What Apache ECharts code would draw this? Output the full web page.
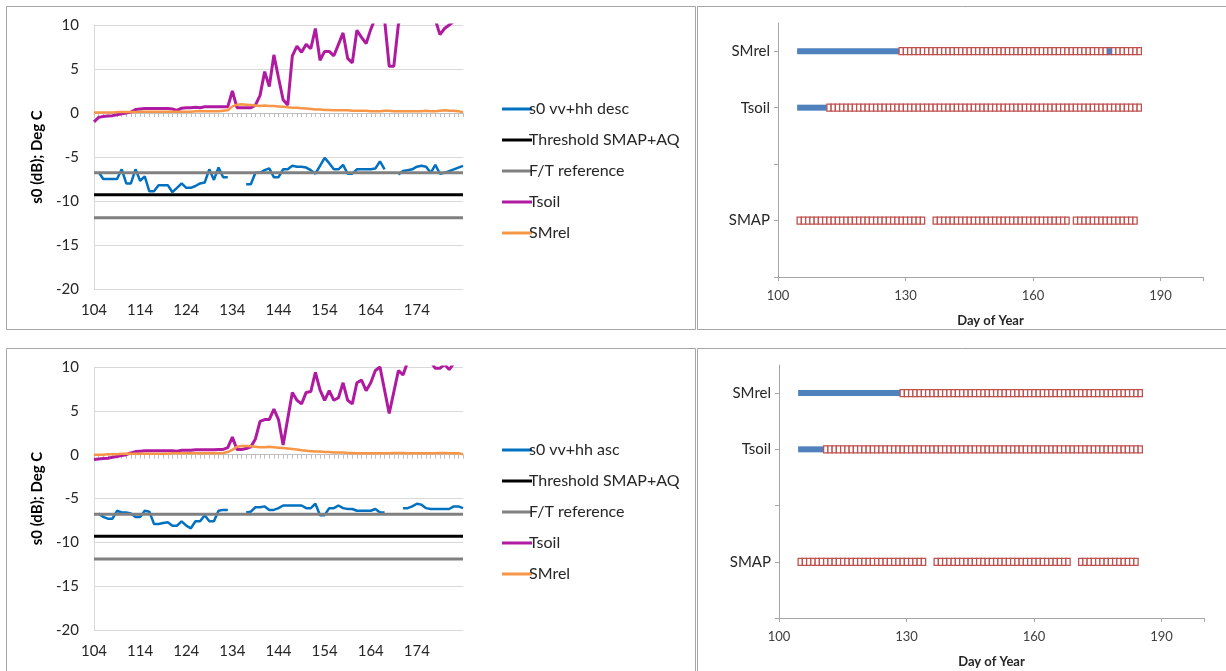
<!DOCTYPE html>
<html>
<head>
<meta charset="utf-8">
<script src="https://cdn.jsdelivr.net/npm/echarts@6/dist/echarts.min.js"></script>
<style>
  html, body { margin: 0; padding: 0; background: #fff; }
  #main { width: 1226px; height: 671px; }
</style>
</head>
<body>
<div id="main"></div>
<script>
var myChart = echarts.init(document.getElementById('main'));

// day of year, categories of the two line charts
var days = [104,105,106,107,108,109,110,111,112,113,114,115,116,117,118,119,120,121,122,123,
    124,125,126,127,128,129,130,131,132,133,134,135,136,137,138,139,140,141,142,143,
    144,145,146,147,148,149,150,151,152,153,154,155,156,157,158,159,160,161,162,163,
    164,165,166,167,168,169,170,171,172,173,174,175,176,177,178,179,180,181,182,183,184];

// top panel (descending)
var s0Desc = [null,-6.7,-7.5,-7.5,-7.5,-7.5,-6.4,-8.0,-8.0,-6.4,-7.7,-7.2,-8.9,-8.9,-8.2,-8.2,-8.2,-9.0,-8.5,-8.0,
    -8.5,-8.5,-8.3,-8.0,-7.9,-6.4,-7.6,-6.2,-7.3,-7.3,null,null,null,-8.1,-8.1,-6.8,-6.8,-6.5,-6.3,-7.3,
    -7.3,-6.4,-6.4,-6.0,-6.1,-6.1,-6.2,-6.5,-6.9,-6.0,-5.1,-5.7,-6.4,-6.4,-5.9,-6.9,-6.9,-6.4,-6.4,-6.4,
    -6.4,-6.3,-5.5,-6.4,null,null,-7.0,-6.6,-6.5,-6.4,-6.1,-6.0,-6.1,-6.8,-5.9,-6.9,-6.8,-6.6,-6.4,-6.2,-6.0];
var tsoilDesc = [-1.0,-0.5,-0.4,-0.35,-0.3,-0.2,-0.1,0.0,0.1,0.4,0.45,0.5,0.5,0.5,0.5,0.5,0.5,0.45,0.3,0.55,
    0.6,0.6,0.65,0.6,0.7,0.7,0.7,0.7,0.7,0.7,2.5,0.6,0.6,0.6,0.6,0.9,2.0,4.7,3.0,6.6,
    4.0,1.5,0.9,6.5,7.6,6.9,7.8,7.3,9.6,6.0,7.0,7.0,6.5,7.8,9.1,6.2,5.7,9.4,8.6,7.9,
    9.5,10.8,11.2,10.6,5.3,5.3,10.1,11.5,12.0,12.4,12.8,12.2,11.8,11.0,10.6,8.9,9.6,10.0,10.4,10.7,10.9];
var smrelDesc = [0.05,0.05,0.05,0.05,0.05,0.1,0.1,0.1,0.1,0.1,0.15,0.15,0.15,0.15,0.15,0.15,0.15,0.15,0.15,0.15,
    0.15,0.15,0.2,0.2,0.2,0.2,0.2,0.2,0.25,0.3,0.75,0.95,1.0,0.95,0.9,0.85,0.8,0.85,0.8,0.8,
    0.75,0.7,0.65,0.6,0.6,0.55,0.5,0.45,0.4,0.4,0.35,0.35,0.3,0.3,0.3,0.3,0.25,0.25,0.25,0.25,
    0.2,0.2,0.2,0.25,0.25,0.2,0.2,0.2,0.2,0.2,0.2,0.2,0.25,0.2,0.2,0.25,0.3,0.25,0.25,0.2,0.1];

// bottom panel (ascending)
var s0Asc = [null,-6.7,-7.1,-7.3,-7.3,-6.4,-6.6,-6.6,-6.7,-7.1,-7.1,-6.4,-6.5,-7.9,-7.9,-7.8,-7.7,-8.1,-8.1,-7.6,
    -8.1,-8.4,-7.6,-7.6,-6.9,-7.6,-7.6,-6.4,-6.3,-6.3,null,null,null,-6.6,-6.5,-6.0,-6.0,-5.9,-6.3,-6.3,
    -6.1,-5.8,-5.8,-5.8,-5.8,-5.8,-6.1,-6.1,-5.6,-6.9,-6.9,-6.1,-6.1,-5.8,-6.1,-6.2,-6.2,-6.4,-6.4,-6.4,
    -6.4,-6.2,-6.6,-6.6,null,null,null,-6.1,-6.1,-5.9,-5.6,-5.7,-6.1,-6.2,-6.2,-6.2,-6.2,-6.2,-5.9,-5.9,-6.1];
var tsoilAsc = [-0.55,-0.5,-0.45,-0.4,-0.3,-0.2,-0.1,0.0,0.2,0.35,0.4,0.45,0.45,0.45,0.45,0.45,0.45,0.45,0.4,0.5,
    0.5,0.5,0.55,0.55,0.55,0.55,0.55,0.6,0.6,0.8,2.0,0.6,0.6,0.7,0.9,1.8,3.8,4.0,4.0,5.2,
    4.0,1.1,4.1,7.1,6.2,5.8,7.1,7.2,9.4,7.4,6.2,7.3,6.2,6.5,8.2,6.2,5.8,8.2,8.5,7.3,
    8.2,9.6,10.0,7.35,4.7,7.15,9.6,9.1,10.6,11.2,11.8,12.0,11.5,10.6,9.85,9.85,10.3,9.7,10.4,10.9,11.0];
var smrelAsc = [0.0,0.0,0.0,0.05,0.05,0.05,0.1,0.1,0.1,0.1,0.1,0.1,0.1,0.1,0.1,0.1,0.1,0.15,0.15,0.15,
    0.15,0.15,0.15,0.15,0.15,0.15,0.15,0.15,0.2,0.3,0.55,0.9,1.0,1.0,0.95,0.9,0.85,0.85,0.9,0.85,
    0.8,0.75,0.7,0.65,0.6,0.5,0.45,0.4,0.35,0.35,0.3,0.3,0.25,0.25,0.25,0.2,0.2,0.15,0.15,0.15,
    0.15,0.15,0.15,0.15,0.15,0.2,0.2,0.2,0.15,0.15,0.15,0.15,0.15,0.15,0.15,0.2,0.2,0.15,0.15,0.15,0.05];

// constant reference levels (dB)
var thresholdSMAP = -9.3;
var ftReference = -6.8;
var ftReferenceLow = -11.9;

// status panels: rows of the y axis and [start day, end day, row, state] (1 = frozen, 0 = thawed)
var statusRows = ['', 'SMAP', '', 'Tsoil', 'SMrel'];
var statusDesc = [
    [105, 128, 4, 1], [129, 185, 4, 0], [178, 178, 4, 1],
    [105, 111, 3, 1], [112, 185, 3, 0],
    [105, 134, 1, 0], [137, 168, 1, 0], [170, 184, 1, 0]
];
var statusAsc = [
    [105, 128, 4, 1], [129, 185, 4, 0],
    [105, 110, 3, 1], [111, 185, 3, 0],
    [105, 134, 1, 0], [137, 168, 1, 0], [171, 184, 1, 0]
];

var font = 'Lato, "Open Sans", sans-serif';
var gridColor = '#d9d9d9';

function flatLine(v) {
    return [[String(days[0]), v], [String(days[days.length - 1]), v]];
}

function renderStatus(params, api) {
    var start = api.value(0), end = api.value(1), row = api.value(2), state = api.value(3);
    var dayW = api.size([1, 0])[0];
    if (state === 1) {
        var p0 = api.coord([start - 0.5, row]);
        var p1 = api.coord([end + 0.5, row]);
        return {
            type: 'rect',
            shape: {x: p0[0], y: p0[1] - 3, width: p1[0] - p0[0], height: 6},
            style: {fill: '#4f81bd'}
        };
    }
    var children = [];
    for (var d = start; d <= end; d++) {
        var c = api.coord([d - 0.5, row]);
        children.push({
            type: 'rect',
            shape: {x: c[0], y: c[1] - 3.5, width: dayW, height: 7},
            style: {fill: '#fff', stroke: '#c0504d', lineWidth: 1.3}
        });
    }
    return {type: 'group', children: children};
}

function labelAxis(gridIndex) {
    return {
        type: 'category', gridIndex: gridIndex, data: days, boundaryGap: false,
        axisLine: {show: false, onZero: false}, axisTick: {show: false},
        axisLabel: {
            interval: function (index) { return index % 10 === 0 && index < 80; },
            fontSize: 15, color: '#262626', fontFamily: font, margin: 14
        },
        splitLine: {show: false}
    };
}

function zeroAxis(gridIndex) {
    return {
        type: 'category', gridIndex: gridIndex, data: days, boundaryGap: false, position: 'bottom',
        axisLine: {show: true, onZero: true, lineStyle: {color: '#bfbfbf', width: 1}},
        axisTick: {show: true, interval: 0, length: 4, lineStyle: {color: '#bfbfbf'}},
        axisLabel: {show: false}, splitLine: {show: false}
    };
}

function statusXAxis(gridIndex) {
    return {
        type: 'value', gridIndex: gridIndex, min: 100, max: 200, interval: 30,
        name: 'Day of Year', nameLocation: 'middle', nameGap: 37,
        nameTextStyle: {fontSize: 13, fontWeight: 'bold', color: '#262626', fontFamily: font},
        axisLine: {show: true, lineStyle: {color: '#a6a6a6'}},
        axisTick: {show: true, length: 4, lineStyle: {color: '#a6a6a6'}},
        axisLabel: {fontSize: 13, color: '#404040', fontFamily: font, margin: 12,
            customValues: [100, 130, 160, 190]},
        splitLine: {show: false}
    };
}

function valueYAxis(gridIndex) {
    return {
        type: 'value', gridIndex: gridIndex, min: -20, max: 10, interval: 5,
        name: 's0 (dB); Deg C', nameLocation: 'middle', nameGap: 49,
        nameTextStyle: {fontSize: 15, fontWeight: 'bold', color: '#000', fontFamily: font},
        axisLine: {show: true, lineStyle: {color: gridColor}},
        axisTick: {show: false},
        axisLabel: {fontSize: 15, color: '#262626', fontFamily: font, margin: 15},
        splitLine: {show: true, lineStyle: {color: gridColor, width: 1}}
    };
}

function statusYAxis(gridIndex) {
    return {
        type: 'value', gridIndex: gridIndex, min: 0, max: 4.5, interval: 1,
        axisLine: {show: true, lineStyle: {color: '#a6a6a6'}},
        axisTick: {show: true, length: 4, lineStyle: {color: '#a6a6a6'}, customValues: [0, 1, 2, 3, 4]},
        axisLabel: {
            fontSize: 15, color: '#262626', fontFamily: font, margin: 8,
            customValues: [1, 3, 4],
            formatter: function (v) { return statusRows[v] || ''; }
        },
        splitLine: {show: false}
    };
}

function lineSeries(name, data, color, width, xIdx, yIdx) {
    return {
        name: name, type: 'line', data: data, xAxisIndex: xIdx, yAxisIndex: yIdx,
        symbol: 'none', connectNulls: false, clip: true,
        itemStyle: {color: color},
        lineStyle: {color: color, width: width},
        emphasis: {disabled: true}
    };
}

function legendFor(top, firstName) {
    return {
        orient: 'vertical', left: 497, top: top, itemGap: 15,
        icon: 'rect', itemWidth: 30, itemHeight: 3,
        textStyle: {fontSize: 16, color: '#262626', fontFamily: font, padding: [0, 0, 0, -8]},
        data: [firstName, 'Threshold SMAP+AQ', 'F/T reference', 'Tsoil', 'SMrel'],
        selectedMode: false
    };
}

function frame(x, y, w, h) {
    return {type: 'rect', shape: {x: x, y: y, width: w, height: h}, silent: true,
        style: {fill: 'none', stroke: '#a6a6a6', lineWidth: 1}};
}

option = {
    backgroundColor: '#fff',
    animation: false,
    graphic: [
        frame(6.5, 6.5, 689, 323),
        frame(697.5, 6.5, 540, 323),
        frame(6.5, 348.5, 689, 330),
        frame(697.5, 348.5, 540, 330)
    ],
    grid: [
        {left: 94, top: 25, width: 369, height: 264},
        {left: 778, top: 23, width: 425, height: 254},
        {left: 94, top: 367, width: 369, height: 263},
        {left: 779, top: 365, width: 425, height: 253}
    ],
    legend: [legendFor(96, 's0 vv+hh desc'), legendFor(437, 's0 vv+hh asc')],
    xAxis: [labelAxis(0), zeroAxis(0), statusXAxis(1), labelAxis(2), zeroAxis(2), statusXAxis(3)],
    yAxis: [valueYAxis(0), statusYAxis(1), valueYAxis(2), statusYAxis(3)],
    series: [
        lineSeries('s0 vv+hh desc', s0Desc, '#0070c0', 2.5, 0, 0),
        lineSeries('Threshold SMAP+AQ', flatLine(thresholdSMAP), '#000000', 3, 0, 0),
        lineSeries('F/T reference', flatLine(ftReference), '#808080', 3, 0, 0),
        lineSeries('F/T reference (low)', flatLine(ftReferenceLow), '#808080', 3, 0, 0),
        lineSeries('Tsoil', tsoilDesc, '#b01aa0', 3, 0, 0),
        lineSeries('SMrel', smrelDesc, '#f79646', 2.5, 0, 0),

        lineSeries('s0 vv+hh asc', s0Asc, '#0070c0', 2.5, 3, 2),
        lineSeries('Threshold SMAP+AQ', flatLine(thresholdSMAP), '#000000', 3, 3, 2),
        lineSeries('F/T reference', flatLine(ftReference), '#808080', 3, 3, 2),
        lineSeries('F/T reference (low)', flatLine(ftReferenceLow), '#808080', 3, 3, 2),
        lineSeries('Tsoil', tsoilAsc, '#b01aa0', 3, 3, 2),
        lineSeries('SMrel', smrelAsc, '#f79646', 2.5, 3, 2),

        {
            name: 'status desc', type: 'custom', xAxisIndex: 2, yAxisIndex: 1,
            renderItem: renderStatus, data: statusDesc, encode: {x: [0, 1], y: 2}, silent: true
        },
        {
            name: 'status asc', type: 'custom', xAxisIndex: 5, yAxisIndex: 3,
            renderItem: renderStatus, data: statusAsc, encode: {x: [0, 1], y: 2}, silent: true
        }
    ]
};
myChart.setOption(option);
</script>
</body>
</html>
